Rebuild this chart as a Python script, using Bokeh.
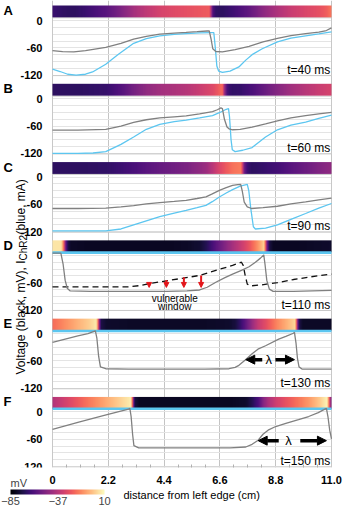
import numpy as np
from bokeh.plotting import figure
from bokeh.models import (Range1d, FixedTicker, LinearColorMapper, ColorBar,
                          Arrow, NormalHead, ColumnDataSource, Title)
from bokeh.palettes import Magma256
from bokeh.embed import file_html
from bokeh.resources import INLINE
from bokeh.core.properties import value

# ---------------- data ----------------
panel_letters = ["A", "B", "C", "D", "E", "F"]
time_labels = ["t=40 ms", "t=60 ms", "t=90 ms", "t=110 ms", "t=130 ms", "t=150 ms"]
x_ticks = [0, 2.2, 4.4, 6.6, 8.8, 11.0]
x_tick_labels = ["0", "2.2", "4.4", "6.6", "8.8", "11.0"]
x_minor = [0.55, 1.1, 1.65, 2.75, 3.3, 3.85, 4.95, 5.5, 6.05, 7.15, 7.7, 8.25, 9.35, 9.9, 10.45]
y_ticks = [0, -60, -120]
y_minor = [-15, -30, -45, -75, -90, -105]
cbar_ticks = [-85, -37, 10]
y_title_parts = ["Voltage (black, mV), I", "ChR2", " (blue, mA)"]
x_title = "distance from left edge (cm)"

# panel A (t=40 ms)
a_vx = [0.0, 0.4, 0.84, 1.3, 2.1, 2.7, 3.2, 3.7, 4.23, 4.8, 5.27, 5.7, 6.1, 6.18, 6.25, 6.32, 6.44, 6.7, 7.2, 7.75, 8.3, 8.87, 9.4, 9.98, 10.5, 10.8, 11.0]
a_v = [-66, -68.5, -69, -66, -59, -50, -41, -35, -30, -27.5, -26, -24.5, -23, -23, -40, -62, -68, -69, -64, -57, -47, -39, -33, -29, -25.7, -22, -16]
a_ix = [0.0, 0.3, 0.6, 0.93, 1.3, 1.58, 2.1, 2.6, 3.2, 3.7, 4.23, 4.8, 5.27, 5.8, 6.31, 6.36, 6.42, 6.48, 6.55, 6.7, 7.0, 7.35, 7.62, 7.87, 8.27, 8.87, 9.4, 9.98, 10.5, 11.0]
a_i = [-107, -112, -118, -120, -118, -113, -96, -74, -50, -40, -33.6, -30.5, -28.6, -27.3, -26.4, -26.4, -60, -100, -111, -114, -111, -102, -87, -75, -62, -47, -38.5, -33.6, -29.5, -25]

# panel B (t=60 ms)
b_vx = [0.0, 1.0, 2.1, 2.7, 3.2, 3.7, 4.23, 4.8, 5.27, 5.8, 6.31, 6.5, 6.64, 6.70, 6.78, 6.88, 6.96, 7.1, 7.4, 7.87, 8.4, 8.87, 9.4, 9.98, 10.5, 11.0]
b_v = [-69, -69, -67, -60, -52, -46, -42, -39.5, -37.5, -33, -28, -24, -20, -21.5, -45, -62, -66, -68, -67, -62, -55, -48.5, -42, -37, -33, -30]
b_ix = [0.0, 1.0, 1.6, 2.1, 2.7, 3.2, 3.7, 4.23, 4.8, 5.27, 5.8, 6.31, 6.6, 6.85, 6.94, 6.98, 7.04, 7.09, 7.2, 7.5, 7.87, 8.4, 8.87, 9.4, 9.98, 10.5, 11.0]
b_i = [-120, -120, -119, -116, -100, -84, -67, -56, -50, -47, -42, -37, -30, -23, -21.6, -40, -90, -112, -116, -113, -107, -84, -68, -58, -51, -43, -36]

# panel C (t=90 ms)
c_vx = [0.0, 1.0, 2.1, 2.7, 3.2, 3.7, 4.23, 4.8, 5.27, 5.7, 6.05, 6.3, 6.58, 6.85, 7.1, 7.3, 7.42, 7.48, 7.56, 7.68, 7.85, 8.3, 8.87, 9.4, 9.98, 10.5, 11.0]
c_v = [-69, -69, -68, -65.5, -62.5, -59, -56, -53.5, -51, -47, -43.6, -37, -29, -23, -18, -16.5, -16, -30, -55, -65.5, -69, -67, -64, -59, -54.6, -50, -46]
c_ix = [0.0, 1.0, 2.1, 2.7, 3.2, 3.7, 4.23, 4.8, 5.27, 5.7, 6.05, 6.3, 6.58, 6.85, 7.1, 7.4, 7.68, 7.74, 7.82, 7.92, 8.0, 8.4, 8.87, 9.4, 9.98, 10.5, 11.0]
c_i = [-118, -118, -118, -114, -105, -96, -87, -79, -73, -67, -62, -54, -43.6, -35, -27.6, -20, -16, -30, -70, -109, -114, -112, -105, -93, -80, -68, -58]

# panel D (t=110 ms)
d_vx = [0.0, 0.33, 0.42, 0.5, 0.58, 0.7, 1.5, 3.0, 4.5, 5.3, 5.8, 6.1, 6.44, 6.8, 7.1, 7.45, 7.75, 8.0, 8.2, 8.33, 8.38, 8.45, 8.55, 8.7, 9.5, 11.0]
d_v = [5, 5, -20, -55, -72, -78, -79, -79, -79, -78, -76, -70, -59, -49, -41, -33, -25, -15, -6, 1, -20, -55, -74, -79, -79, -77]
d_dx = [0.0, 1.0, 2.0, 3.0, 3.5, 3.84, 4.49, 5.15, 5.8, 6.44, 7.1, 7.45, 7.52, 7.6, 7.68, 7.8, 8.2, 8.87, 9.5, 10.2, 11.0]
d_dv = [-69, -69, -69, -69, -66, -61.5, -56, -50, -44, -33, -22, -15, -22, -45, -63, -67, -65, -60, -53, -47, -41]
d_ix = [0.0, 11.0]
d_i = [6, 6]

# panel E (t=130 ms)
e_vx = [0.0, 0.5, 1.0, 1.4, 1.69, 1.75, 1.82, 1.89, 2.1, 3.0, 4.0, 5.0, 6.0, 6.96, 7.2, 7.35, 7.6, 7.87, 8.1, 8.4, 8.92, 9.2, 9.5, 9.54, 9.6, 9.66, 9.72, 9.85, 11.0]
e_v = [-19, -12, -5, 0, 6, -10, -50, -73, -77, -78, -78, -78, -78, -77, -74, -69.6, -58, -44, -34, -26.5, -12, -6, 1, 3, -20, -55, -73, -78, -78]
e_ix = [0.0, 11.0]
e_i = [6, 6]

# panel F (t=150 ms)
f_vx = [0.0, 1.0, 2.0, 2.5, 3.0, 3.05, 3.1, 3.16, 3.21, 3.4, 4.5, 6.0, 7.0, 7.62, 7.87, 8.11, 8.3, 8.5, 8.8, 9.2, 9.7, 10.1, 10.48, 10.7, 10.8, 10.86, 10.93, 11.0]
f_v = [-38, -23, -8, -1, 6, 8, -10, -50, -74, -79, -79, -79, -79, -77, -71, -62, -49, -40, -32, -25, -17, -10, -1.5, 5, 8, -10, -40, -59]
f_ix = [0.0, 11.0]
f_i = [7, 7]

# vulnerable-window arrows (panel D)
vw_x = [3.81, 4.49, 5.18, 5.86]
vw_top = [-60.7, -54, -48, -44.4]
vw_bottom = [-70.4, -70.4, -70.4, -70.4]
vw_text = ["vulnerable", "window"]
vw_text_x = [4.82, 4.82]
vw_text_y = [-95, -112]

# wavelength arrows (panels E, F)
lam_panel = [4, 5]
lam_y = [-57, -63]
lam_left_tip = [7.62, 8.11]
lam_left_tail = [8.27, 8.92]
lam_right_tail = [8.79, 9.77]
lam_right_tip = [9.54, 10.8]
lam_center = [8.53, 9.31]

volt_x = [a_vx, b_vx, c_vx, d_vx, e_vx, f_vx]
volt_v = [a_v, b_v, c_v, d_v, e_v, f_v]
cur_x = [a_ix, b_ix, c_ix, d_ix, e_ix, f_ix]
cur_i = [a_i, b_i, c_i, d_i, e_i, f_i]

# ---------------- layout constants ----------------
P = 172              # vertical pitch between panels (data units)
TOP = 44
BOTTOM = -5 * P - 122
FRAME_H = 467
SY = FRAME_H / (TOP - BOTTOM)          # px per data unit (y)
X0, X1 = -2.05, 11.04
FRAME_W = 332
SX = FRAME_W / (X1 - X0)               # px per cm
FONT = "Liberation Sans"
GRAY = "#808080"
BLUE = "#5cc6f0"

mapper = LinearColorMapper(palette=Magma256, low=-85, high=10)

p = figure(frame_width=FRAME_W, frame_height=FRAME_H, min_border_left=0, min_border_right=11,
           min_border_top=0, min_border_bottom=42,
           x_range=Range1d(X0, X1), y_range=Range1d(BOTTOM, TOP),
           output_backend="svg", toolbar_location=None)
p.outline_line_color = None

off = [-k * P for k in range(6)]

# panel boxes
p.quad(left=[0] * 6, right=[11] * 6, top=[6 + o for o in off], bottom=[-121 + o for o in off],
       fill_color=None, line_color="#c8c8c8", line_width=1)

grid = np.linspace(0, 11, 280)
for k in range(6):
    o = off[k]
    strip = np.interp(grid, volt_x[k], volt_v[k])
    p.image(image=[strip[np.newaxis, :]], x=0, y=7 + o, dw=11, dh=26, color_mapper=mapper)
    lw = 1.3 if k < 3 else 2.6
    p.line(cur_x[k], [v + o for v in cur_i[k]], line_color=BLUE, line_width=lw)
    if k == 3:
        p.line(d_dx, [v + o for v in d_dv], line_color="#111111", line_width=1.3, line_dash="6 4")
    p.line(volt_x[k], [v + o for v in volt_v[k]], line_color=GRAY, line_width=1.3)

# time labels
p.text(x=[10.95] * 6, y=[-108 + o for o in off], text=time_labels, text_align="right",
       text_baseline="middle", text_font=value(FONT), text_font_size="12px", text_color="black")

# vulnerable window
oD = off[3]
vsrc = ColumnDataSource(dict(xs=vw_x, ys=[v + oD for v in vw_top], xe=vw_x, ye=[v + oD for v in vw_bottom]))
p.add_layout(Arrow(end=NormalHead(size=5, fill_color="#e3161b", line_color="#e3161b"),
                   x_start="xs", y_start="ys", x_end="xe", y_end="ye", source=vsrc,
                   line_color="#e3161b", line_width=2))
p.text(x=vw_text_x, y=[v + oD for v in vw_text_y], text=vw_text, text_align="center",
       text_baseline="middle", text_font=value(FONT), text_font_size="10px", text_color="black")

# wavelength arrows
ly = [lam_y[i] + off[lam_panel[i]] for i in range(2)]
lsrc = ColumnDataSource(dict(xs=lam_left_tail + lam_right_tail, xe=lam_left_tip + lam_right_tip, y=ly + ly))
p.add_layout(Arrow(end=NormalHead(size=9, fill_color="black", line_color="black"),
                   x_start="xs", y_start="y", x_end="xe", y_end="y", source=lsrc,
                   line_color="black", line_width=3.5))
p.text(x=lam_center, y=ly, text=["λ", "λ"], text_align="center", text_baseline="middle",
       text_font=value(FONT), text_font_size="13px", text_color="black")

# panel letters (left margin, inside the extended frame)
p.text(x=[X0 + 3 / SX] * 6, y=[22 + o for o in off], text=panel_letters, text_align="left",
       text_baseline="middle", text_font=value(FONT), text_font_size="13px",
       text_font_style="bold", text_color="black")

# y-axis title with subscript (rotated)
xt = X0 + 20 / SX
y_sub = TOP - 260 / SY                # start of subscript (px from top)
y_blue = TOP - 234 / SY
p.text(x=[xt], y=[y_sub], text=[y_title_parts[0]], angle=np.pi / 2, text_align="right",
       text_baseline="middle", text_font=value(FONT), text_font_size="12px", text_color="black")
p.text(x=[xt], y=[y_sub], text=[y_title_parts[1]], angle=np.pi / 2, text_align="left", x_offset=3,
       text_baseline="middle", text_font=value(FONT), text_font_size="10px", text_color="black")
p.text(x=[xt], y=[y_blue], text=[y_title_parts[2]], angle=np.pi / 2, text_align="left",
       text_baseline="middle", text_font=value(FONT), text_font_size="12px", text_color="black")

# axes
p.xaxis.ticker = FixedTicker(ticks=x_ticks, minor_ticks=x_minor)
p.xaxis.bounds = (0, 11)
p.xaxis.major_label_overrides = dict(zip(x_ticks, x_tick_labels))
p.xaxis.axis_line_color = None
p.xaxis.major_tick_line_color = None
p.xaxis.minor_tick_line_color = "#b0b0b0"
p.xaxis.minor_tick_in = 3
p.xaxis.minor_tick_out = 0
p.xaxis.major_label_standoff = 2

# x-axis title, centred under the 0..11 cm span of the axis (left-aligned with offset)
p.add_layout(Title(text=x_title, align="left", offset=round(52 + 5.5 * (FRAME_W - 52) / 11.04 - 68),
                   standoff=0, text_font=FONT, text_font_size="11px",
                   text_font_style="normal", text_color="black"), "below")

yt = [t + o for o in off for t in y_ticks]
ym = [t + o for o in off for t in y_minor]
p.yaxis.ticker = FixedTicker(ticks=yt, minor_ticks=ym)
p.yaxis.fixed_location = 0
p.yaxis.major_label_overrides = {t + o: str(t) for o in off for t in y_ticks}
p.yaxis.axis_line_color = None
p.yaxis.major_tick_line_color = None
p.yaxis.minor_tick_line_color = None
p.yaxis.major_label_standoff = 4

for ax in (p.xaxis[0], p.yaxis[0]):
    ax.major_label_text_font = FONT
    ax.major_label_text_font_size = "11px"
    ax.major_label_text_font_style = "bold"
    ax.major_label_text_color = "black"

p.xgrid.grid_line_color = "#c4c4c4"
p.ygrid.grid_line_color = "#e4e4e4"
p.ygrid.minor_grid_line_color = "#e4e4e4"
if "cross_bounds" in p.ygrid[0].properties():
    p.ygrid.cross_bounds = (0, 11)
else:
    p.quad(left=[X0], right=[-0.02], top=[TOP], bottom=[BOTTOM], fill_color="white",
           line_color=None, level="underlay")

# colour bar legend
cb = ColorBar(color_mapper=mapper, orientation="horizontal", width=94, height=5,
              location=(10, -40), title="mV", ticker=FixedTicker(ticks=cbar_ticks),
              padding=0, bar_line_color=None, major_tick_line_color=None,
              background_fill_alpha=0, border_line_color=None,
              title_text_font=FONT, title_text_font_size="11px", title_text_font_style="normal",
              title_standoff=1, label_standoff=2,
              major_label_text_font=FONT, major_label_text_font_size="11px")
p.add_layout(cb)

open("out.html", "w").write(file_html(p, INLINE))
